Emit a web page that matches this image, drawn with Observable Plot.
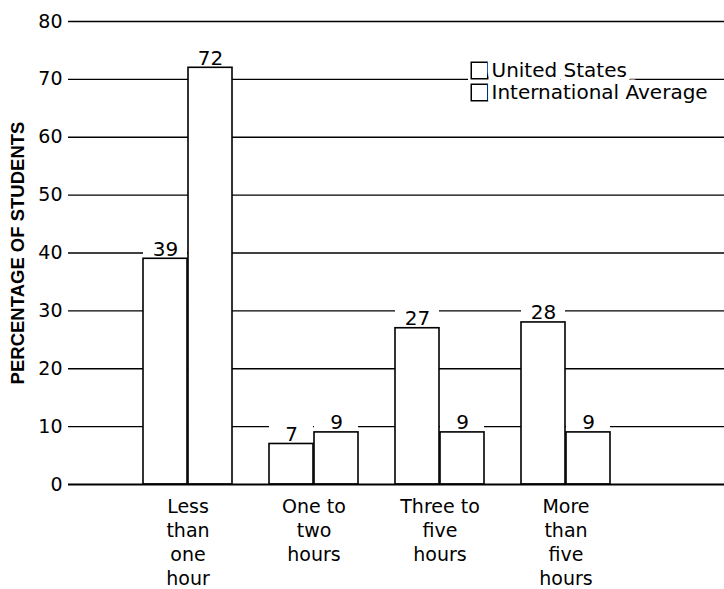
<!DOCTYPE html>
<html><head><meta charset="utf-8">
<script src="https://cdn.jsdelivr.net/npm/d3@7"></script>
<script src="https://cdn.jsdelivr.net/npm/@observablehq/plot@0.6"></script>
<style>body{margin:0;background:#fff}</style>
</head><body><div id="chart"></div>
<script>
const categories = ["Less than one hour", "One to two hours", "Three to five hours", "More than five hours"];
const categoryLabels = ["Less\nthan\none\nhour", "One to\ntwo\nhours", "Three to\nfive\nhours", "More\nthan\nfive\nhours"];
const series = ["United States", "International Average"];
const usValues = [39, 7, 27, 28];
const intlValues = [72, 9, 9, 9];
const yTicks = [0, 10, 20, 30, 40, 50, 60, 70, 80];
const yLabel = "PERCENTAGE OF STUDENTS";

const us = categories.map((c, i) => ({category: c, value: usValues[i]}));
const intl = categories.map((c, i) => ({category: c, value: intlValues[i]}));
const font = "'DejaVu Sans', sans-serif";
const half = 45;

function legendEntry(name, dy) {
  return [
    Plot.dot([name], {frameAnchor: "top-left", dx: 411, dy, symbol: "square", r: 13, fill: "white", stroke: "none"}),
    Plot.dot([name], {frameAnchor: "top-left", dx: 411, dy, symbol: "square", r: 9.3, fill: "white", stroke: "black", strokeWidth: 1.5}),
    Plot.text([name], {frameAnchor: "top-left", dx: 423, dy, text: d => d, textAnchor: "start", lineAnchor: "middle",
      fontSize: 20, fill: "black", stroke: "white", strokeWidth: 11, paintOrder: "stroke"})
  ];
}

const chart = Plot.plot({
  width: 724, height: 589,
  marginTop: 21, marginBottom: 105, marginLeft: 68, marginRight: 0,
  style: {fontFamily: font, fontSize: "18px", background: "white", color: "black"},
  x: {type: "band", domain: categories, range: [142, 612], paddingInner: 0.29, paddingOuter: 0},
  y: {domain: [0, 80]},
  marks: [
    Plot.ruleY(yTicks.filter(d => d > 0), {stroke: "black", strokeWidth: 1.3}),
    // white knockouts holding the value labels
    Plot.barY(us, {x: "category", y1: "value", y2: "value", insetTop: -20, insetRight: half, fill: "white"}),
    Plot.barY(intl, {x: "category", y1: "value", y2: "value", insetTop: -20, insetLeft: half, fill: "white"}),
    Plot.barY(us, {x: "category", y: "value", insetRight: half, fill: "white", stroke: "black", strokeWidth: 1.6}),
    Plot.barY(intl, {x: "category", y: "value", insetLeft: half, fill: "white", stroke: "black", strokeWidth: 1.6}),
    Plot.ruleY([0], {stroke: "black", strokeWidth: 2}),
    Plot.text(us, {x: "category", y: "value", text: d => String(d.value), dx: -half / 2, dy: -3, lineAnchor: "bottom", fontSize: 20}),
    Plot.text(intl, {x: "category", y: "value", text: d => String(d.value), dx: half / 2, dy: -3, lineAnchor: "bottom", fontSize: 20}),
    Plot.axisY({ticks: yTicks, tickSize: 0, tickPadding: 6, fontSize: 19, label: null}),
    Plot.axisX({tickSize: 0, tickPadding: 12, fontSize: 19, lineHeight: 1.25, label: null,
      tickFormat: d => categoryLabels[categories.indexOf(d)]}),
    Plot.text([yLabel], {frameAnchor: "left", rotate: -90, dx: -50, textAnchor: "middle", lineAnchor: "middle",
      fontWeight: "bold", fontSize: 18.5, fontFamily: "'Liberation Sans', sans-serif"}),
    ...legendEntry(series[0], 49),
    ...legendEntry(series[1], 71)
  ]
});
document.getElementById("chart").append(chart);
</script>
</body></html>
